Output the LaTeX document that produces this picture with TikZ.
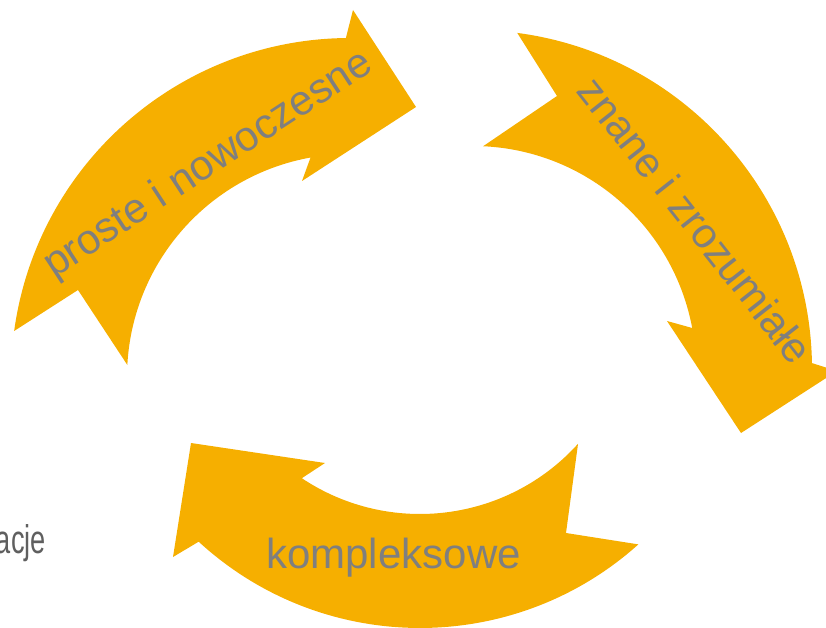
\documentclass[tikz,border=0pt]{standalone}
\usepackage{fontspec}
\setmainfont{Liberation Sans}
\usetikzlibrary{calc}
\definecolor{arrowfill}{HTML}{F6AF00}
\definecolor{labelgray}{HTML}{7F7F7F}
\definecolor{sidegray}{HTML}{5F5F5F}
\tikzset{
  cyclearrow/.style={fill=arrowfill, draw=none},
  arrowlabel/.style={text=labelgray, font=\fontsize{42}{50}\selectfont, inner sep=0pt, anchor=base}
}
\begin{document}
\begin{tikzpicture}[x=1pt,y=1pt]
\useasboundingbox (0,0) rectangle (826,627);
\clip (0,0) rectangle (826,627);
\coordinate (c1) at (350,250);
\coordinate (c2) at (473,258);
\coordinate (c3) at (420,326);
% arrow 1 (top left)
\fill[cyclearrow] ($(c1)+(172.2:339)$) arc[start angle=172.2, end angle=90.7, radius=339]
  -- (353,617) -- (416,520) -- (302,446)
  -- ($(c1)+(100.2:223)$) arc[start angle=100.2, end angle=176.9, radius=223]
  -- (78,337) -- cycle;
% arrow 2 (right)
\fill[cyclearrow] ($(c2)+(82.5:339)$) arc[start angle=82.5, end angle=1.0, radius=339]
  -- (837,256) -- (741,194) -- (667,306)
  -- ($(c2)+(10.6:223)$) arc[start angle=10.6, end angle=87.4, radius=223]
  -- (557,531) -- cycle;
% arrow 3 (bottom)
\fill[cyclearrow] (191,184) -- (173,70)
  -- ($(c3)+(227.4:327)$) arc[start angle=227.4, end angle=311.9, radius=327]
  -- (566,94)
  -- ($(c3)+(317.9:213)$) arc[start angle=317.9, end angle=236.3, radius=213]
  -- (325,164) -- cycle;
% labels
\begin{scope}[shift={(208.5,462)}, rotate=33.1]
  \node[arrowlabel, transform shape] (t1) at (0,-11) {proste i nowoczesne};
\end{scope}
\begin{scope}[shift={(692.5,404.5)}, rotate=-51.8]
  \node[arrowlabel, transform shape] (t2) at (0,-11) {znane i zrozumiałe};
\end{scope}
\node[arrowlabel] (t3) at (393.5,59) {kompleksowe};
\node[text=sidegray, font=\fontsize{40}{48}\selectfont, inner sep=0pt, anchor=base east, xscale=0.68] (t4) at (46,74) {acje};
\end{tikzpicture}
\end{document}
